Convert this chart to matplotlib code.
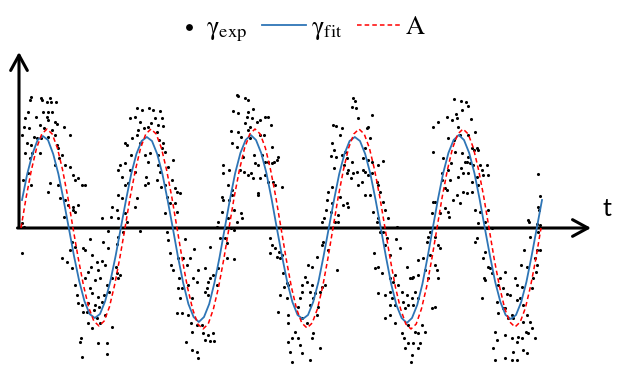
import numpy as np
import matplotlib
matplotlib.use("Agg")
import matplotlib.pyplot as plt
from matplotlib.legend_handler import HandlerPathCollection

plt.rcParams['mathtext.fontset'] = 'stix'

exp_points = [
    # first cycle
    (12, 131), (11, 128), (22, 130), (23, 128), (31, 130), (28, 126), (37, 126), (32, 126),
    (9, 116), (24, 116), (29, 116), (33, 116), (17, 111), (28, 111), (29, 108), (6, 110),
    (36, 106), (21, 103), (38, 104), (5, 101), (10, 100), (25, 100), (33, 98), (45, 101),
    (15, 91), (18, 90), (22, 90), (29, 91), (36, 93), (51, 93), (3, 93), (8, 85),
    (12, 83), (38, 83), (39, 80), (6, 75), (13, 75), (21, 75), (11, 70), (40, 70),
    (43, 73), (36, 63), (46, 63), (51, 61), (54, 53), (59, 50), (56, 48), (63, 43),
    (39, 43), (31, 45), (12, 43), (4, 48), (9, 55), (29, 36), (41, 30), (46, 28),
    (49, 23), (54, 21), (56, 16), (54, 18), (45, 11), (59, 23), (3, 5), (5, 1),
    (3, -25), (53, -14), (56, -19), (51, -22), (64, -20), (43, -30), (48, -34), (53, -40),
    (56, -57), (58, -67), (59, -75), (63, -77), (64, -84), (62, -110), (61, -114), (63, -129),
    # second segment
    (118, 120), (123, 118), (130, 120), (134, 118), (111, 110), (116, 111), (121, 106), (125, 100),
    (129, 101), (119, 98), (132, 105), (113, 90), (118, 93), (106, 85), (108, 83), (121, 85),
    (112, 73), (126, 73), (131, 75), (129, 66), (101, 63), (106, 65), (99, 58), (111, 58),
    (103, 51), (116, 56), (127, 51), (129, 45), (126, 43), (106, 43), (109, 45), (99, 33),
    (103, 30), (118, 30), (93, 21), (116, 21), (98, 18), (106, 15), (83, 10), (92, 11),
    (99, 10), (108, 6), (89, -3), (104, -4), (121, -3), (99, -9), (71, -11), (84, -14),
    (98, -16), (89, -20), (66, -22), (73, -27), (78, -34), (83, -33), (86, -37), (72, -39),
    (69, -44), (79, -42), (97, -39), (98, -45), (101, -47), (66, -50), (76, -52), (81, -50),
    (93, -50), (99, -50), (71, -60), (88, -57), (73, -65), (79, -69), (85, -67), (83, -74),
    (90, -64), (69, -75), (76, -77), (80, -79), (75, -82), (68, -84), (86, -87), (78, -90),
    (69, -95), (81, -95), (93, -99), (73, -100), (79, -115), (88, -115), (88, -126), (66, 43),
    # third segment
    (141, 117), (143, 110), (139, 103), (144, 102), (136, 110), (138, 96), (140, 88), (144, 85),
    (143, 80), (146, 76), (139, 73), (149, 61), (139, 63), (141, 56), (138, 48), (142, 41),
    (146, 43), (154, 68), (153, 48), (156, 40), (158, 36), (161, 35), (148, 31), (151, 25),
    (156, 25), (158, 16), (146, 15), (204, 63), (204, 55), (203, 31), (204, 28), (203, 16),
    (199, 6), (198, 1), (148, -4), (149, -12), (166, -11), (151, -25), (152, -37), (154, -42),
    (159, -30), (164, -30), (171, -30), (168, -37), (175, -21), (191, -19), (201, -10), (179, -42),
    (186, -40), (199, -40), (194, -47), (191, -50), (189, -54), (174, -50), (178, -54), (169, -57),
    (160, -50), (163, -60), (198, -57), (186, -64), (189, -67), (188, -60), (159, -60), (161, -70),
    (173, -70), (158, -85), (163, -85), (169, -87), (172, -95), (178, -97), (183, -97), (184, -105),
    (189, -107), (194, -105), (173, -104), (186, -112), (191, -113), (195, -113), (167, -114), (173, -122),
    (178, -124), (179, -130),
    # fourth segment
    (218, 133), (219, 132), (226, 130), (229, 128), (214, 117), (219, 115), (229, 116), (234, 119),
    (228, 111), (233, 110), (241, 108), (238, 106), (246, 111), (249, 111), (226, 105), (231, 101),
    (229, 98), (212, 97), (219, 96), (222, 91), (231, 90), (241, 93), (245, 93), (252, 103),
    (253, 81), (213, 85), (218, 81), (224, 71), (235, 73), (243, 73), (236, 65), (239, 63),
    (246, 66), (249, 66), (253, 65), (255, 66), (258, 68), (259, 71), (210, 58), (221, 58),
    (225, 56), (229, 53), (232, 55), (234, 50), (241, 50), (246, 53), (249, 46), (254, 46),
    (256, 43), (263, 41), (209, 43), (213, 38), (239, 35), (239, 33), (210, 28), (213, 33),
    (215, 18), (222, 15), (223, 10), (218, 6), (209, 10), (206, 0), (212, 0), (215, -2),
    (206, -10), (208, -15), (251, -10), (253, -17), (256, -20), (251, -25), (260, -24), (258, -29),
    (263, -27), (261, -30), (208, -30), (215, -31), (264, -45), (268, -55), (265, -59), (269, -57),
    (261, -67), (268, -70), (259, -84), (269, -87), (269, -95), (273, -110), (269, -114), (271, -124),
    (273, -134),
    # fifth segment
    (334, 130), (336, 127), (333, 121), (337, 120), (339, 110), (314, 103), (317, 102), (323, 100),
    (321, 93), (313, 85), (315, 78), (312, 72), (317, 71), (323, 73), (326, 76), (328, 70),
    (325, 63), (329, 58), (328, 55), (315, 60), (333, 66), (334, 55), (338, 56), (332, 50),
    (339, 43), (343, 46), (344, 58), (344, 70), (346, 33), (309, 36), (313, 41), (308, 28),
    (321, 31), (324, 23), (328, 25), (329, 21), (313, 25), (319, 13), (312, 16), (307, 18),
    (303, 6), (305, 10), (319, 6), (316, 6), (304, -14), (303, -17), (309, -22), (298, -29),
    (289, -37), (293, -39), (286, -49), (283, -57), (288, -54), (293, -57), (283, -64), (291, -64),
    (296, -65), (301, -64), (303, -59), (306, -57), (294, -70), (281, -70), (291, -77), (299, -79),
    (279, -79), (298, -87), (283, -90), (288, -95), (294, -105), (276, -104), (279, -110), (281, -117),
    (293, -110), (301, -120), (283, -125), (291, -132), (318, -42),
    # sixth segment
    (353, 113), (349, 101), (348, 100), (351, 90), (346, 80), (349, 68), (353, 66), (359, 63),
    (364, 67), (346, 56), (349, 53), (353, 55), (358, 46), (351, 33), (359, 43), (361, 36),
    (364, 26), (354, 16), (366, 18), (359, 10), (358, 6), (369, 10), (361, -4), (364, -4),
    (378, 1), (368, -10), (377, -11), (381, -20), (366, -17), (355, -25), (371, -27), (359, -39),
    (363, -45), (356, -40), (376, -47), (371, -50), (374, -54), (379, -57), (388, -39), (391, -50),
    (393, -50), (394, -49), (399, -47), (399, -32), (404, -30), (408, -14), (411, -4), (409, -9),
    (414, 26), (414, 76), (414, 101), (413, 15), (411, -27), (406, -42), (409, -50), (413, -80),
    (359, -65), (366, -67), (371, -64), (373, -70), (371, -77), (376, -77), (383, -64), (384, -74),
    (388, -67), (393, -70), (396, -64), (399, -70), (394, -77), (389, -77), (386, -80), (366, -90),
    (371, -87), (376, -95), (383, -105), (385, -110), (389, -97), (396, -104), (399, -105), (403, -97),
    (406, -104), (389, -115), (394, -115), (386, -120), (393, -127), (401, -115), (399, -120), (392, -134),
    # seventh segment
    (435, 129), (442, 127), (447, 126), (449, 122), (443, 118), (428, 111), (433, 108), (437, 114),
    (438, 110), (452, 109), (419, 106), (439, 101), (429, 90), (435, 88), (441, 93), (449, 93),
    (456, 96), (458, 80), (453, 80), (455, 78), (459, 78), (436, 76), (443, 75), (449, 71),
    (424, 70), (432, 65), (429, 58), (423, 55), (442, 60), (446, 66), (448, 66), (451, 65),
    (454, 63), (461, 63), (463, 58), (468, 63), (423, 48), (431, 48), (439, 51), (444, 55),
    (449, 55), (453, 46), (458, 51), (459, 43), (464, 53), (469, 53), (428, 38), (426, 40),
    (438, 33), (444, 36), (448, 35), (453, 36), (434, 28), (441, 25), (416, 26), (426, 20),
    (429, 16), (456, 18), (461, 16), (469, 18), (421, 15), (430, 11), (459, 5), (466, 6),
    (468, 0), (473, 0), (416, -9), (419, -17), (421, -20), (458, -10), (456, -14), (416, -37),
    (418, -42), (419, -50), (466, -24), (464, -30), (469, -39), (471, -40), (473, -45), (465, -50),
    (466, -52), (481, -50), (479, -57), (484, -60), (463, -70), (478, -74), (479, -85), (484, -80),
    (416, -79), (476, -104), (478, -112), (474, -120), (476, -132),
    # last segment
    (519, 54), (521, 32), (519, 21), (520, 18), (509, 8), (510, 6), (518, 4), (521, 3),
    (511, -9), (519, -4), (505, -22), (518, -22), (521, -22), (502, -37), (508, -39), (516, -30),
    (518, -37), (517, -44), (514, -50), (513, -60), (486, -44), (496, -50), (498, -57), (503, -59),
    (488, -66), (491, -67), (486, -80), (493, -87), (494, -90), (489, -90), (498, -72), (501, -70),
    (504, -77), (508, -87), (504, -94), (511, -94), (513, -100), (509, -105), (486, -107), (493, -110),
    (499, -109), (498, -114), (503, -110), (507, -104), (516, -110), (494, -124), (504, -122), (508, -125),
    (486, -130), (493, -132), (498, -132),
]

# fitted curve, sampled every 5.2 units starting at t = 3
gamma_fit = [
    28, 54, 74, 88, 92, 88, 74, 54, 28, 0,
    -28, -53, -73, -86, -90, -86, -73, -53, -28, 0,
    28, 54, 74, 87, 91, 87, 74, 54, 28, 0,
    -29, -55, -76, -89, -94, -89, -76, -55, -29, 0,
    29, 55, 75, 88, 93, 88, 75, 55, 29, 0,
    -28, -54, -74, -87, -91, -87, -74, -54, -28, 0,
    28, 54, 74, 87, 91, 87, 74, 54, 28, 0,
    -29, -56, -77, -90, -95, -90, -77, -56, -29, 0,
    29, 55, 75, 88, 93, 88, 75, 55, 29, 0,
    -28, -54, -74, -87, -91, -87, -74, -54, -28, 0,
    28,
]

# A, sampled every 5.2 units starting at t = 2
a_curve = [
    0, 31, 58, 80, 94, 99, 94, 80, 58, 31,
    0, -30, -57, -79, -93, -98, -93, -79, -57, -30,
    0, 31, 58, 80, 94, 99, 94, 80, 58, 31,
    0, -31, -59, -81, -96, -101, -96, -81, -59, -31,
    0, 31, 58, 80, 94, 99, 94, 80, 58, 31,
    0, -31, -59, -81, -95, -100, -95, -81, -59, -31,
    0, 31, 58, 80, 94, 99, 94, 80, 58, 31,
    0, -31, -59, -81, -96, -101, -96, -81, -59, -31,
    0, 31, 58, 80, 94, 99, 94, 80, 58, 31,
    0, -31, -58, -80, -94, -99, -94, -80, -58, -31,
    0,
]

t_exp = [p[0] for p in exp_points]
gamma_exp = [p[1] for p in exp_points]
t_fit = np.linspace(3, 3 + 5.2 * (len(gamma_fit) - 1), len(gamma_fit))
t_a = np.linspace(2, 2 + 5.2 * (len(a_curve) - 1), len(a_curve))


class DotHandler(HandlerPathCollection):
    # put the legend dot close to its label instead of the handle centre
    def get_xdata(self, legend, xdescent, ydescent, width, height, fontsize):
        x = [width - xdescent - 0.45 * fontsize]
        return x, x


fig = plt.figure(figsize=(6.19, 3.68), dpi=100, facecolor='white')
ax = fig.add_axes([0, 0, 1, 1])
ax.set_xlim(-19, 600)
ax.set_ylim(-140, 228)
ax.axis('off')

dots = ax.scatter(t_exp, gamma_exp, s=5, color='black', linewidths=0, zorder=3,
                  label='γ$_{\\mathrm{exp}}$')
ax.plot(t_fit, gamma_fit, color='#2E75B6', lw=1.3, zorder=4,
        label='γ$_{\\mathrm{fit}}$')
ax.plot(t_a, a_curve, color='#FF0000', lw=1.1, dashes=(3, 2), zorder=5,
        label='A')

# axes with arrows
arrow = dict(arrowstyle='->,head_length=0.55,head_width=0.3', lw=2.2,
             color='black', shrinkA=0, shrinkB=0, mutation_scale=20)
ax.annotate('', xy=(572, 0), xytext=(-1.5, 0), arrowprops=arrow, zorder=2)
ax.annotate('', xy=(0, 176), xytext=(0, 1), arrowprops=arrow, zorder=2)
ax.text(588, 20, 't', fontsize=18, family='Lato', ha='center', va='center')

ax.legend(loc='upper center', bbox_to_anchor=(0.47, 1.022), ncol=3,
          frameon=False, handlelength=1.65, handletextpad=0.2,
          columnspacing=0.55, markerscale=2.2, scatterpoints=1,
          handler_map={dots: DotHandler()},
          prop={'family': 'STIXGeneral', 'size': 19})

fig.savefig('out.png', dpi=100, facecolor='white')
